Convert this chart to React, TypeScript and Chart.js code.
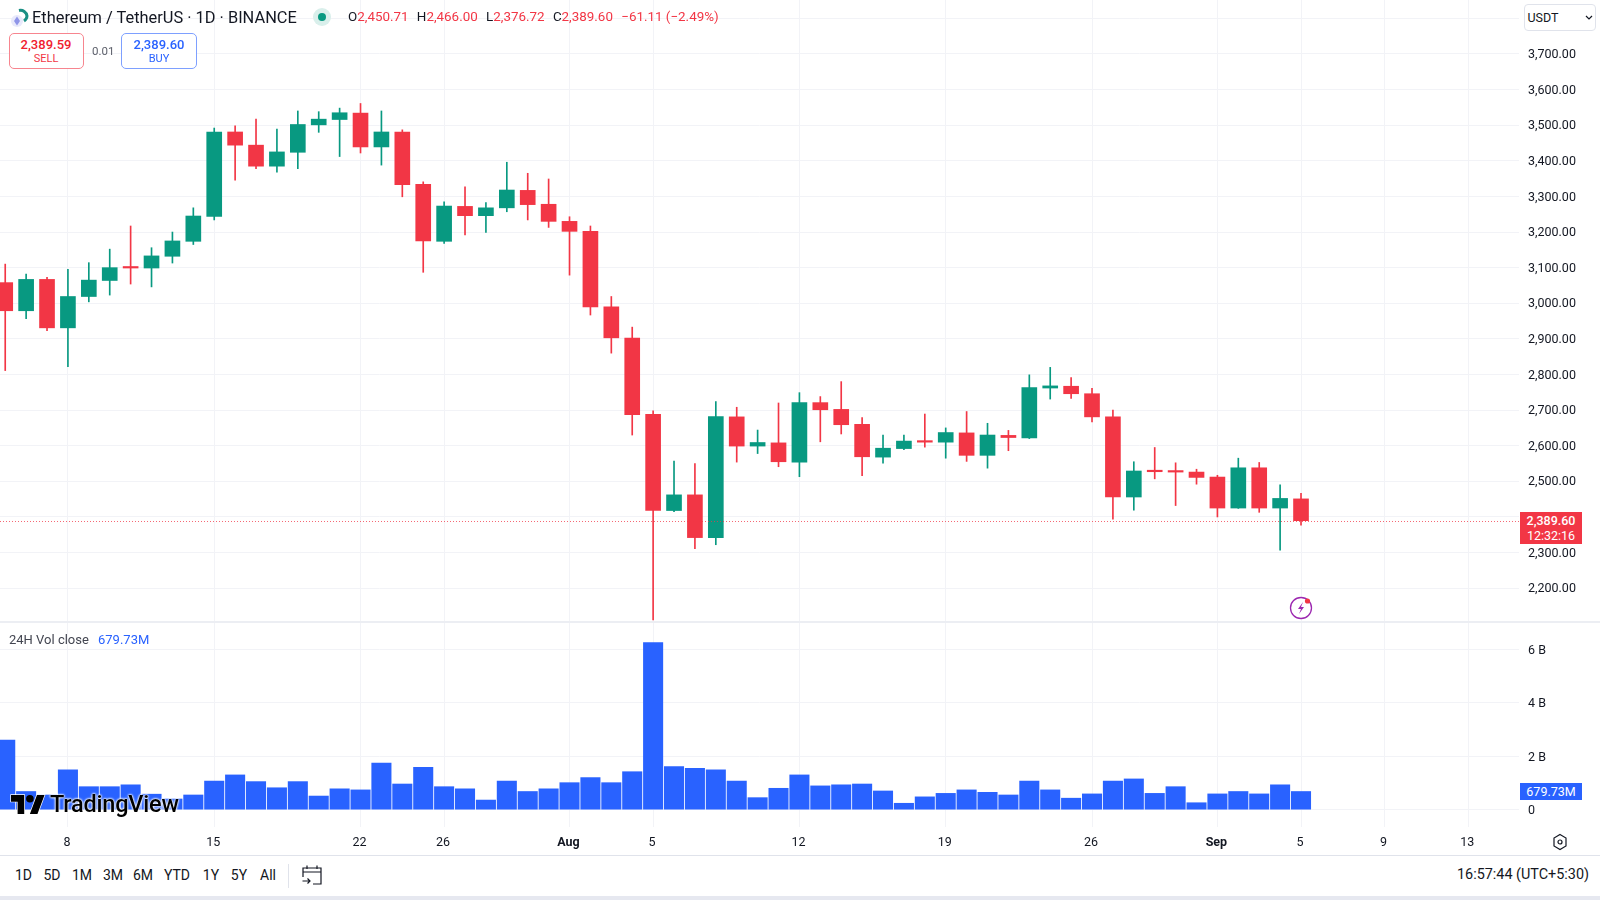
import React, { useEffect, useRef } from "react";
import { Chart, registerables } from "chart.js";

Chart.register(...registerables);

const opens = [3058,2979,3067,2931,3019,3064,3100,3099,3132,3174,3244,3481,3444,3385,3424,3501,3516,3534,3439,3481,3334,3174,3272,3246,3268,3317,3278,3230,3202,2990,2902,2688,2418,2462,2342,2681,2599,2608,2554,2721,2702,2660,2568,2592,2613,2610,2636,2573,2629,2622,2762,2767,2746,2681,2456,2529,2527,2526,2512,2425,2538,2425,2450.71];
const closes = [2979,3067,2931,3019,3065,3100,3099,3133,3175,3245,3481,3444,3385,3425,3502,3517,3535,3439,3481,3333,3175,3273,3246,3268,3318,3277,3230,3202,2990,2903,2687,2418,2462,2342,2682,2599,2609,2555,2721,2701,2659,2569,2593,2613,2610,2637,2573,2630,2623,2763,2768,2746,2681,2456,2529,2527,2526,2511,2425,2538,2425,2452,2389.6];
const highs = [3110,3082,3073,3095,3114,3152,3217,3156,3200,3268,3492,3498,3517,3489,3540,3538,3548,3561,3540,3487,3341,3285,3327,3283,3396,3365,3349,3243,3217,3019,2933,2698,2557,2550,2724,2708,2644,2720,2749,2738,2780,2679,2630,2630,2689,2650,2696,2663,2643,2799,2820,2791,2761,2700,2555,2595,2552,2534,2517,2565,2553,2490,2466];
const lows = [2811,2957,2923,2822,3004,3023,3054,3046,3113,3165,3234,3346,3378,3368,3378,3480,3412,3422,3388,3299,3087,3168,3192,3199,3257,3234,3213,3079,2967,2860,2630,2111,2415,2311,2322,2554,2578,2541,2513,2611,2633,2516,2551,2589,2596,2565,2556,2537,2586,2620,2731,2733,2667,2394,2419,2507,2432,2492,2400,2424,2413,2307,2376.72];
const volumes = [2.6,0.68,0.55,1.49,0.86,0.86,0.93,0.58,0.4,0.55,1.07,1.3,1.05,0.82,1.05,0.51,0.78,0.74,1.74,0.96,1.58,0.86,0.78,0.36,1.07,0.68,0.78,1.01,1.2,1.01,1.42,6.25,1.61,1.55,1.49,1.07,0.45,0.8,1.3,0.89,0.93,0.96,0.7,0.24,0.48,0.61,0.74,0.65,0.55,1.07,0.74,0.43,0.59,1.07,1.15,0.61,0.86,0.26,0.59,0.68,0.59,0.93,0.68];
const dayIndexes = [3,10,17,21,27,31,38,45,52,58,62,66,70];
const dayLabels = ["8","15","22","26","Aug","5","12","19","26","Sep","5","9","13"];
const priceTicks = [2200,2300,2400,2500,2600,2700,2800,2900,3000,3100,3200,3300,3400,3500,3600,3700,3800];
const volumeTicks = [0,2,4,6];
const rangeLabels = ["1D","5D","1M","3M","6M","YTD","1Y","5Y","All"];

const GREEN = "#089981";
const RED = "#F23645";
const BLUE = "#2962FF";
const GRID = "#f2f3f7";
const INK = "#131722";
const FONT = "Roboto, sans-serif";
const xRange = { min: -0.25, max: 72.43 };

const fmt = (v: number) => v.toLocaleString("en-US", { minimumFractionDigits: 2, maximumFractionDigits: 2 });
const candleColor = (i: number) => (closes[i] >= opens[i] ? GREEN : RED);
const setTicks = (values: number[]) => (s: any) => { s.ticks = values.map((value) => ({ value })); };
const fitY = (s: any) => { s.width = 81; s.paddingTop = 0; s.paddingBottom = 0; };

const priceLine = {
  id: "priceLine",
  afterDatasetsDraw(chart: any) {
    const y = Math.round(chart.scales.y.getPixelForValue(closes[closes.length - 1])) + 0.5;
    const { ctx, chartArea } = chart;
    ctx.save();
    ctx.strokeStyle = "rgba(242,54,69,.75)";
    ctx.lineWidth = 1;
    ctx.setLineDash([1, 2]);
    ctx.beginPath();
    ctx.moveTo(chartArea.left, y);
    ctx.lineTo(chartArea.right, y);
    ctx.stroke();
    ctx.restore();
  },
};

const abs = (left: number, top: number, extra: React.CSSProperties = {}): React.CSSProperties => ({
  position: "absolute", left, top, whiteSpace: "nowrap", ...extra,
});

export default function App() {
  const priceRef = useRef<HTMLCanvasElement>(null);
  const volRef = useRef<HTMLCanvasElement>(null);

  useEffect(() => {
    const idx = opens.map((_, i) => i);
    const price = new Chart(priceRef.current!, {
      type: "bar",
      data: {
        datasets: [
          {
            data: idx.map((i) => ({ x: i, y: [lows[i], highs[i]] })) as any,
            barThickness: 1,
            grouped: false,
            backgroundColor: (c: any) => candleColor(c.dataIndex),
            order: 2,
          },
          {
            data: idx.map((i) => ({ x: i, y: [opens[i], closes[i]] })) as any,
            barThickness: 15,
            minBarLength: 1.5,
            grouped: false,
            backgroundColor: (c: any) => candleColor(c.dataIndex),
            order: 1,
          },
        ],
      },
      options: {
        animation: false,
        responsive: false,
        layout: { padding: 0 },
        plugins: { legend: { display: false }, tooltip: { enabled: false } },
        scales: {
          x: {
            type: "linear", ...xRange, offset: false, display: true,
            afterBuildTicks: setTicks(dayIndexes),
            afterFit: (s: any) => { s.height = 0; s.paddingLeft = 0; s.paddingRight = 0; },
            border: { display: false },
            grid: { color: GRID, offset: false, drawTicks: false },
            ticks: { display: false, autoSkip: false },
          },
          y: {
            position: "right", min: 2105, max: 3851.6,
            afterBuildTicks: setTicks(priceTicks),
            afterFit: fitY,
            border: { display: false },
            grid: { color: GRID, drawTicks: false },
            ticks: {
              padding: 9, color: INK, autoSkip: false, labelOffset: 1,
              font: { family: FONT, size: 12.5 },
              callback: (v: any) => (v === 3800 ? "" : fmt(v)),
            },
          },
        },
      } as any,
      plugins: [priceLine],
    });

    const vol = new Chart(volRef.current!, {
      type: "bar",
      data: {
        datasets: [
          {
            data: idx.map((i) => ({ x: i, y: volumes[i] })) as any,
            barThickness: 19.4,
            backgroundColor: BLUE,
          },
        ],
      },
      options: {
        animation: false,
        responsive: false,
        layout: { padding: 0 },
        plugins: { legend: { display: false }, tooltip: { enabled: false } },
        scales: {
          x: {
            type: "linear", ...xRange, offset: false,
            afterBuildTicks: setTicks(dayIndexes),
            afterFit: (s: any) => { s.height = 29; s.paddingLeft = 0; s.paddingRight = 0; },
            border: { display: false },
            grid: { color: GRID, offset: false, drawTicks: false },
            ticks: {
              autoSkip: false, maxRotation: 0, padding: 8, color: INK, labelOffset: -1,
              font: (c: any) => ({
                family: FONT, size: 12.5,
                weight: dayLabels[dayIndexes.indexOf(c.tick?.value)]?.length === 3 ? "bold" : "normal",
              }),
              callback: (v: any) => dayLabels[dayIndexes.indexOf(v)] ?? "",
            },
          },
          y: {
            position: "right", min: -0.647, max: 6.98,
            afterBuildTicks: setTicks(volumeTicks),
            afterFit: fitY,
            border: { display: false },
            grid: { color: GRID, drawTicks: false },
            ticks: {
              padding: 9, color: INK, autoSkip: false, labelOffset: 1.5,
              font: { family: FONT, size: 12.5 },
              callback: (v: any) => (v === 0 ? "0" : `${v} B`),
            },
          },
        },
      } as any,
    });

    return () => { price.destroy(); vol.destroy(); };
  }, []);

  const ohlc: [string, string][] = [["O", "2,450.71"], ["H", "2,466.00"], ["L", "2,376.72"], ["C", "2,389.60"]];
  const rangeX = [23.5, 52, 82, 113, 143, 177, 211, 239, 268];

  return (
    <div style={{ position: "relative", width: 1600, height: 900, overflow: "hidden", background: "#fff", fontFamily: FONT, color: INK }}>
      <style>{"body{margin:0}"}</style>
      <canvas ref={priceRef} width={1600} height={622} style={abs(0, 0, { display: "block" })} />
      <canvas ref={volRef} width={1600} height={233} style={abs(0, 623, { display: "block" })} />

      {/* pane separators */}
      <div style={abs(0, 621, { width: 1600, height: 2, background: "#eceef3" })} />
      <div style={abs(0, 855, { width: 1600, height: 1, background: "#e0e3eb" })} />
      <div style={abs(0, 896, { width: 1600, height: 4, background: "#e6e8f0" })} />

      {/* header */}
      <svg width="20" height="22" viewBox="0 0 20 22" style={abs(10, 7)}>
        <circle cx="7" cy="14" r="6" fill="#e8e9fb" />
        <path d="M7 9.5 L10 14 L7 18.5 L4 14 Z" fill="#8f95e8" />
        <path d="M9 3.5 A6.5 6.5 0 0 1 17 9 A6.5 6.5 0 0 1 14 14" fill="none" stroke="#1a8f84" strokeWidth="3" />
      </svg>
      <div style={abs(32, 8, { fontSize: 16.4, lineHeight: "19px" })}>Ethereum / TetherUS · 1D · BINANCE</div>
      <div style={abs(313, 8, { width: 18, height: 18, borderRadius: 9, background: "#d9efeb" })} />
      <div style={abs(318, 13, { width: 8, height: 8, borderRadius: 4, background: GREEN })} />
      <div style={abs(348, 9, { fontSize: 13.4, lineHeight: "16px", color: RED })}>
        {ohlc.map(([k, v]) => (
          <span key={k} style={{ marginRight: 8.3 }}><span style={{ color: INK }}>{k}</span>{v}</span>
        ))}
        <span>−61.11 (−2.49%)</span>
      </div>

      {/* order buttons */}
      <div style={abs(8.5, 33, { width: 75, height: 36, boxSizing: "border-box", border: "1px solid #f7858f", borderRadius: 5, textAlign: "center", color: RED, background: "#fff" })}>
        <div style={{ fontSize: 13, lineHeight: "15px", marginTop: 3, fontWeight: 500, color: "#f0202f" }}>2,389.59</div>
        <div style={{ fontSize: 11, lineHeight: "14px" }}>SELL</div>
      </div>
      <div style={abs(92, 44, { fontSize: 11.5, lineHeight: "14px", color: "#5d606b" })}>0.01</div>
      <div style={abs(121, 33, { width: 76, height: 36, boxSizing: "border-box", border: "1px solid #7ea0ff", borderRadius: 5, textAlign: "center", color: BLUE, background: "#fff" })}>
        <div style={{ fontSize: 13, lineHeight: "15px", marginTop: 3, fontWeight: 500 }}>2,389.60</div>
        <div style={{ fontSize: 11, lineHeight: "14px" }}>BUY</div>
      </div>

      {/* currency box */}
      <div style={abs(1523.5, 4, { width: 72, height: 27, boxSizing: "border-box", border: "1px solid #e0e3eb", borderRadius: 4, background: "#fff", fontSize: 12.5, lineHeight: "25px", paddingLeft: 3 })}>USDT</div>
      <svg width="8" height="6" viewBox="0 0 8 6" style={abs(1585, 15)}>
        <path d="M1 1 L4 4 L7 1" fill="none" stroke={INK} strokeWidth="1.2" />
      </svg>

      {/* last price tags */}
      <div style={abs(1520, 512, { width: 62, height: 32, background: RED, color: "#fff", textAlign: "center", fontSize: 12.5, lineHeight: "15px", paddingTop: 1, boxSizing: "border-box" })}>
        <div style={{ fontWeight: 500 }}>2,389.60</div>
        <div>12:32:16</div>
      </div>
      <div style={abs(1520, 783, { width: 62, height: 17, background: BLUE, color: "#fff", textAlign: "center", fontSize: 12.5, lineHeight: "17px" })}>679.73M</div>

      {/* indicator legend */}
      <div style={abs(9, 632, { fontSize: 13, lineHeight: "16px", color: "#434651" })}>24H Vol close</div>
      <div style={abs(98, 632, { fontSize: 13, lineHeight: "16px", color: BLUE })}>679.73M</div>

      {/* lightning */}
      <svg width="26" height="26" viewBox="0 0 26 26" style={abs(1287.5, 595)}>
        <circle cx="13" cy="13" r="10.5" fill="#fff" stroke="#9c27b0" strokeWidth="1.3" />
        <path d="M15 7 L10 14 H13 L11 19 L16 12 H13 Z" fill="#9c27b0" />
        <circle cx="19.5" cy="6" r="2.6" fill="#f23645" />
      </svg>

      {/* watermark */}
      <svg width="34" height="19" viewBox="0 0 36 20" style={abs(11, 795, { overflow: "visible" })}>
        <path d="M14 20H7V7H0V0h14v20zM28 20h-8l7.5-20h8L28 20z" fill="#000" stroke="#fff" strokeWidth="1.5" paintOrder="stroke" />
        <circle cx="20" cy="4" r="4" fill="#000" />
      </svg>
      <div style={abs(50, 791, { fontSize: 23.5, lineHeight: "27px", fontWeight: 500, color: "#000", letterSpacing: -0.2, textShadow: "0 0 2px #fff, 0 0 2px #fff, 0 0 3px #fff" })}>TradingView</div>

      {/* gear */}
      <svg width="18" height="18" viewBox="0 0 18 18" style={abs(1551, 833)}>
        <path d="M9 1.5 L15 5 V13 L9 16.5 L3 13 V5 Z" fill="none" stroke={INK} strokeWidth="1.2" />
        <circle cx="9" cy="9" r="2" fill="none" stroke={INK} strokeWidth="1.2" />
      </svg>

      {/* bottom toolbar */}
      {rangeLabels.map((t, i) => (
        <div key={t} style={abs(rangeX[i], 866, { transform: "translateX(-50%)", fontSize: 14, lineHeight: "18px" })}>{t}</div>
      ))}
      <div style={abs(288, 864, { width: 1, height: 24, background: "#e0e3eb" })} />
      <svg width="20" height="20" viewBox="0 0 20 20" style={abs(302, 865)}>
        <path d="M1 12 V3 H19 V19 H11 M1 7 H19 M5 0.5 V4 M15 0.5 V4" fill="none" stroke={INK} strokeWidth="1.2" />
        <path d="M0.5 16 H8 M5.5 13.5 L8 16 L5.5 18.5" fill="none" stroke={INK} strokeWidth="1.2" />
      </svg>
      <div style={abs(1589, 866, { transform: "translateX(-100%)", fontSize: 14.4, lineHeight: "18px" })}>16:57:44 (UTC+5:30)</div>
    </div>
  );
}
